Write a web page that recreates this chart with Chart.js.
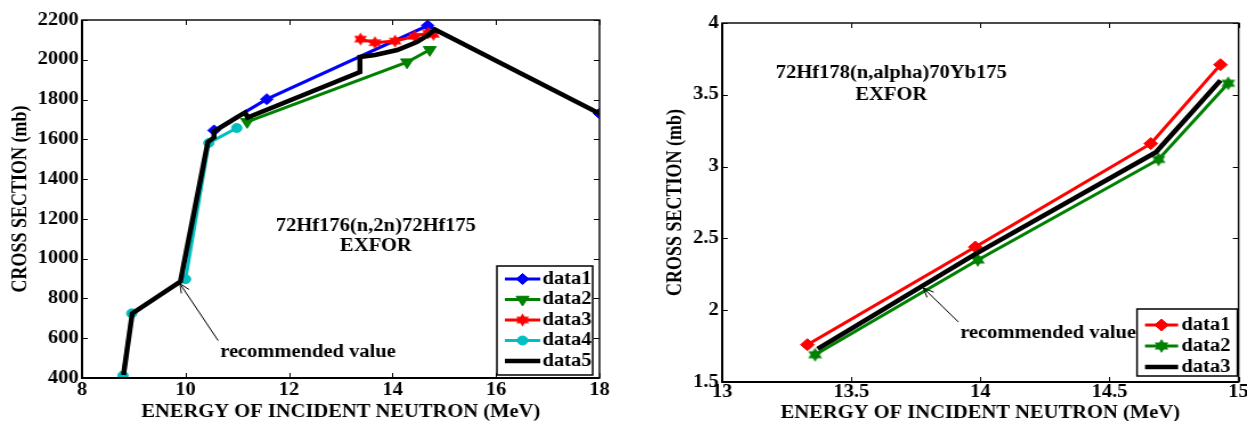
<!DOCTYPE html>
<html>
<head>
<meta charset="utf-8">
<script src="https://cdn.jsdelivr.net/npm/chart.js@4.4.0/dist/chart.umd.min.js"></script>
<style>
  html, body { margin: 0; padding: 0; background: #fff; }
  body { width: 1247px; height: 421px; position: relative; overflow: hidden; }
  canvas { position: absolute; top: 0; }
</style>
</head>
<body>
<!-- La figura original viene estirada en horizontal (~1.14), por eso el canvas se dibuja más estrecho y se estira por CSS -->
<canvas id="hf176Chart" width="544" height="421" style="left:0px;width:620px;height:421px"></canvas>
<canvas id="hf178Chart" width="532" height="421" style="left:640px;width:607px;height:421px"></canvas>
<script>
// ---- Datos: 72Hf176(n,2n)72Hf175 ----
const energia1 = [10.55, 11.57, 14.68, 18];
const seccion1 = [1645, 1802, 2172, 1730];
const energia2 = [11.19, 14.28, 14.72];
const seccion2 = [1688, 1988, 2050];
const energia3 = [13.38, 13.66, 14.05, 14.43, 14.69, 14.79];
const seccion3 = [2104, 2086, 2094, 2118, 2135, 2128];
const energia4 = [8.79, 8.96, 10.0, 10.45, 10.99];
const seccion4 = [412, 725, 897, 1582, 1657];
const energia5 = [8.8, 8.97, 9.9, 10.43, 10.55, 10.55, 11.0, 11.15, 11.2, 13.37, 13.37, 13.66, 14.09, 14.47, 14.69, 14.76, 14.82, 18];
const seccion5 = [415, 725, 885, 1585, 1610, 1640, 1712, 1735, 1710, 1938, 2014, 2024, 2049, 2089, 2124, 2140, 2152, 1730];

// ---- Datos: 72Hf178(n,alpha)70Yb175 ----
const energiaA1 = [13.33, 13.98, 14.66, 14.93];
const seccionA1 = [1.76, 2.44, 3.16, 3.71];
const energiaA2 = [13.36, 13.99, 14.69, 14.96];
const seccionA2 = [1.69, 2.35, 3.05, 3.58];
const energiaA3 = [13.37, 13.98, 14.68, 14.93];
const seccionA3 = [1.73, 2.39, 3.10, 3.60];

// Marcas de los ejes
const ticksX1 = [8, 10, 12, 14, 16, 18];
const ticksY1 = [400, 600, 800, 1000, 1200, 1400, 1600, 1800, 2000, 2200];
const ticksX2 = [13, 13.5, 14, 14.5, 15];
const ticksY2 = [1.5, 2, 2.5, 3, 3.5, 4];

const FUENTE = "'Liberation Serif', 'Times New Roman', serif";
const fuenteTick = { family: FUENTE, size: 18, weight: 'bold' };

// Estrella de seis puntas (hexagrama) como en Matlab
function crearEstrella(color, r) {
    const c = document.createElement('canvas');
    const s = Math.ceil(r * 2 + 2);
    c.width = s;
    c.height = s;
    const g = c.getContext('2d');
    g.fillStyle = color;
    g.beginPath();
    for (let i = 0; i < 12; i++) {
        const ang = -Math.PI / 2 + i * Math.PI / 6;
        const rr = i % 2 === 0 ? r : r * 0.58;
        g.lineTo(s / 2 + rr * Math.cos(ang), s / 2 + rr * Math.sin(ang));
    }
    g.closePath();
    g.fill();
    return c;
}

// Construye una serie a partir de dos listas
function serie(label, xs, ys, color, extra) {
    return Object.assign({
        label: label,
        data: xs.map((x, i) => ({ x: x, y: ys[i] })),
        borderColor: color,
        backgroundColor: color,
        pointBackgroundColor: color,
        pointBorderColor: color,
        borderWidth: 3,
        pointRadius: 5,
        pointBorderWidth: 1,
        showLine: true,
        tension: 0,
        fill: false
    }, extra);
}

// Dibuja un marcador (para la leyenda)
function dibujarMarcador(ctx, ds, x, y) {
    if (!ds.pointRadius && !(ds.pointStyle instanceof HTMLCanvasElement)) return;
    ctx.save();
    ctx.fillStyle = ds.pointBackgroundColor;
    ctx.strokeStyle = ds.pointBorderColor;
    ctx.lineWidth = ds.pointBorderWidth || 1;
    if (Chart.helpers && Chart.helpers.drawPoint) {
        Chart.helpers.drawPoint(ctx, {
            pointStyle: ds.pointStyle,
            rotation: ds.pointRotation || 0,
            radius: ds.pointRadius,
            borderWidth: ds.pointBorderWidth || 1
        }, x, y);
    } else {
        ctx.beginPath();
        ctx.arc(x, y, ds.pointRadius, 0, Math.PI * 2);
        ctx.fill();
    }
    ctx.restore();
}

// Plugin: marco tipo Matlab, ticks hacia dentro, leyenda y anotaciones
const marcoPlugin = {
    id: 'marco',
    afterDraw(chart, args, opts) {
        const ctx = chart.ctx;
        const a = chart.chartArea;
        const sx = chart.scales.x;
        const sy = chart.scales.y;

        ctx.save();
        // ticks interiores en los cuatro lados
        ctx.strokeStyle = '#000';
        ctx.lineWidth = 1;
        ctx.beginPath();
        sx.ticks.forEach(t => {
            const px = Math.round(sx.getPixelForValue(t.value)) + 0.5;
            ctx.moveTo(px, a.bottom); ctx.lineTo(px, a.bottom - 5);
            ctx.moveTo(px, a.top); ctx.lineTo(px, a.top + 5);
        });
        sy.ticks.forEach(t => {
            const py = Math.round(sy.getPixelForValue(t.value)) + 0.5;
            ctx.moveTo(a.left, py); ctx.lineTo(a.left + 5, py);
            ctx.moveTo(a.right, py); ctx.lineTo(a.right - 5, py);
        });
        ctx.stroke();

        // marco
        ctx.lineWidth = 1.5;
        ctx.strokeStyle = '#111';
        ctx.strokeRect(a.left, a.top, a.right - a.left, a.bottom - a.top);
        ctx.lineWidth = 2;
        ctx.strokeStyle = '#000';
        ctx.beginPath();
        ctx.moveTo(a.left, a.top);
        ctx.lineTo(a.left, a.bottom);
        ctx.lineTo(a.right, a.bottom);
        ctx.stroke();

        // anotaciones de texto
        ctx.fillStyle = '#000';
        ctx.font = 'bold 18px ' + FUENTE;
        ctx.textBaseline = 'middle';
        (opts.textos || []).forEach(t => {
            ctx.textAlign = t.align || 'center';
            ctx.fillText(t.texto, sx.getPixelForValue(t.x), sy.getPixelForValue(t.y));
        });

        // flecha "recommended value"
        if (opts.flecha) {
            const f = opts.flecha;
            const x0 = sx.getPixelForValue(f.desde[0]), y0 = sy.getPixelForValue(f.desde[1]);
            const x1 = sx.getPixelForValue(f.hasta[0]), y1 = sy.getPixelForValue(f.hasta[1]);
            const ang = Math.atan2(y1 - y0, x1 - x0);
            ctx.strokeStyle = '#000';
            ctx.lineWidth = 1;
            ctx.beginPath();
            ctx.moveTo(x0, y0);
            ctx.lineTo(x1, y1);
            ctx.moveTo(x1 - 10 * Math.cos(ang - 0.4), y1 - 10 * Math.sin(ang - 0.4));
            ctx.lineTo(x1, y1);
            ctx.lineTo(x1 - 10 * Math.cos(ang + 0.4), y1 - 10 * Math.sin(ang + 0.4));
            ctx.stroke();
        }

        // leyenda
        if (opts.leyenda) {
            const L = opts.leyenda;
            const bx = a.right - L.margenDerecho - L.ancho;
            const by = a.bottom - L.margenInferior - L.alto;
            ctx.fillStyle = '#fff';
            ctx.fillRect(bx, by, L.ancho, L.alto);
            ctx.strokeStyle = '#000';
            ctx.lineWidth = 1.5;
            ctx.strokeRect(bx, by, L.ancho, L.alto);
            chart.data.datasets.forEach((ds, i) => {
                const yy = by + L.primeraFila + i * L.paso;
                ctx.strokeStyle = ds.borderColor;
                ctx.lineWidth = ds.borderWidth;
                ctx.beginPath();
                ctx.moveTo(bx + 7, yy);
                ctx.lineTo(bx + L.finLinea, yy);
                ctx.stroke();
                dibujarMarcador(ctx, ds, bx + (7 + L.finLinea) / 2, yy);
                ctx.fillStyle = '#000';
                ctx.textAlign = 'left';
                ctx.textBaseline = 'middle';
                ctx.fillText(ds.label, bx + L.texto, yy);
            });
        }
        ctx.restore();
    }
};

// Opciones de ejes comunes
function ejes(cfg) {
    return {
        x: {
            type: 'linear',
            min: cfg.ticksX[0],
            max: cfg.ticksX[cfg.ticksX.length - 1],
            afterBuildTicks: s => { s.ticks = cfg.ticksX.map(v => ({ value: v })); },
            afterFit: s => { s.height = cfg.altoX; s.paddingLeft = 0; s.paddingRight = 0; },
            grid: { display: false, drawTicks: false },
            border: { display: false },
            ticks: { color: '#000', font: fuenteTick, padding: cfg.padTickX, maxRotation: 0, autoSkip: false, callback: v => String(v) },
            title: {
                display: true,
                text: 'ENERGY OF INCIDENT NEUTRON (MeV)',
                color: '#000',
                font: { family: FUENTE, size: 18, weight: 'bold', lineHeight: 0.8 },
                padding: { top: 0, bottom: cfg.padTituloX }
            }
        },
        y: {
            type: 'linear',
            min: cfg.ticksY[0],
            max: cfg.ticksY[cfg.ticksY.length - 1],
            afterBuildTicks: s => { s.ticks = cfg.ticksY.map(v => ({ value: v })); },
            afterFit: s => { s.width = 72; },
            grid: { display: false, drawTicks: false },
            border: { display: false },
            ticks: { color: '#000', font: fuenteTick, padding: 3, autoSkip: false, callback: v => String(v) },
            title: {
                display: true,
                text: 'CROSS SECTION (mb)',
                color: '#000',
                font: { family: FUENTE, size: 18, weight: 'bold', lineHeight: 0.8 },
                padding: { top: cfg.padTituloY, bottom: 0 }
            }
        }
    };
}

// ---- Gráfico izquierdo ----
const estrellaRoja = crearEstrella('#ff0000', 6.5);
const datos1 = [
    serie('data1', energia1, seccion1, '#0000ff', { pointStyle: 'rectRot', pointRadius: 5.5, order: 5 }),
    serie('data2', energia2, seccion2, '#008000', { pointStyle: 'triangle', pointRotation: 180, rotation: 180, pointRadius: 6.5, order: 4 }),
    serie('data3', energia3, seccion3, '#ff0000', { pointStyle: estrellaRoja, order: 3 }),
    serie('data4', energia4, seccion4, '#00bfbf', { pointStyle: 'circle', pointRadius: 4.5, order: 2 }),
    serie('data5', energia5, seccion5, '#000000', { pointRadius: 0, borderWidth: 4.5, order: 1 })
];

new Chart(document.getElementById('hf176Chart'), {
    type: 'scatter',
    data: { datasets: datos1 },
    options: {
        responsive: false,
        animation: false,
        devicePixelRatio: 1,
        layout: { padding: { top: 20, right: 18, bottom: 0, left: 0 } },
        scales: ejes({ ticksX: ticksX1, ticksY: ticksY1, altoX: 43, padTickX: 2, padTituloX: 1.3, padTituloY: 11 }),
        plugins: {
            legend: { display: false },
            tooltip: { enabled: false },
            marco: {
                textos: [
                    { texto: '72Hf176(n,2n)72Hf175', x: 13.68, y: 1162 },
                    { texto: 'EXFOR', x: 13.68, y: 1061 },
                    { texto: 'recommended value', x: 10.67, y: 527, align: 'left' }
                ],
                flecha: { desde: [10.63, 588], hasta: [9.89, 875] },
                leyenda: { ancho: 84, alto: 109, margenDerecho: 6, margenInferior: 3, primeraFila: 13, paso: 20.5, finLinea: 38, texto: 40 }
            }
        }
    },
    plugins: [marcoPlugin]
});

// ---- Gráfico derecho ----
const estrellaVerde = crearEstrella('#008000', 7);
const datos2 = [
    serie('data1', energiaA1, seccionA1, '#ff0000', { pointStyle: 'rectRot', pointRadius: 6, order: 3 }),
    serie('data2', energiaA2, seccionA2, '#008000', { pointStyle: estrellaVerde, order: 2 }),
    serie('data3', energiaA3, seccionA3, '#000000', { pointRadius: 0, borderWidth: 4.5, order: 1 })
];

new Chart(document.getElementById('hf178Chart'), {
    type: 'scatter',
    data: { datasets: datos2 },
    options: {
        responsive: false,
        animation: false,
        devicePixelRatio: 1,
        layout: { padding: { top: 23, right: 7.4, bottom: 0, left: 0 } },
        scales: ejes({ ticksX: ticksX2, ticksY: ticksY2, altoX: 39, padTickX: 0, padTituloX: 0, padTituloY: 24 }),
        plugins: {
            legend: { display: false },
            tooltip: { enabled: false },
            marco: {
                textos: [
                    { texto: '72Hf178(n,alpha)70Yb175', x: 13.655, y: 3.652 },
                    { texto: 'EXFOR', x: 13.655, y: 3.499 },
                    { texto: 'recommended value', x: 13.922, y: 1.841, align: 'left' }
                ],
                flecha: { desde: [13.915, 1.918], hasta: [13.779, 2.155] },
                leyenda: { ancho: 88, alto: 67, margenDerecho: 1, margenInferior: 6, primeraFila: 16, paso: 21, finLinea: 36, texto: 39 }
            }
        }
    },
    plugins: [marcoPlugin]
});
</script>
</body>
</html>
